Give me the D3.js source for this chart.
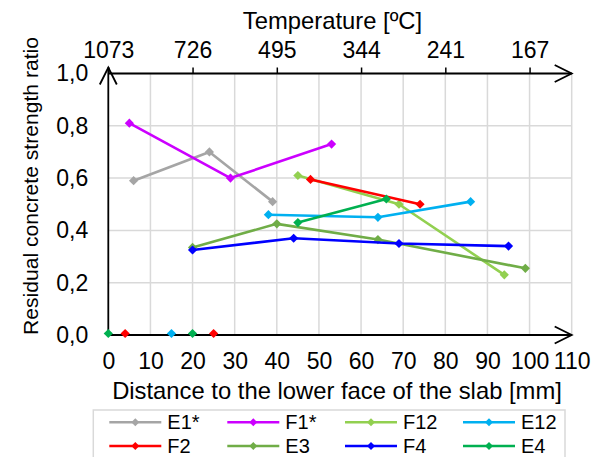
<!DOCTYPE html>
<html>
<head>
<meta charset="utf-8">
<script src="https://cdn.jsdelivr.net/npm/d3@7"></script>
<style>
  html, body { margin: 0; padding: 0; background: #fff; }
  svg { display: block; font-family: "Liberation Sans", Arial, sans-serif; }
</style>
</head>
<body>
<svg id="chart" width="603" height="457"></svg>
<script>
// Axis ticks
const distanceTicks = [0, 10, 20, 30, 40, 50, 60, 70, 80, 90, 100, 110];
const ratioTicks = [0, 0.2, 0.4, 0.6, 0.8, 1.0];
const temperatureTickPositions = [0, 20, 40, 60, 80, 100];
const temperatureLabels = ["1073", "726", "495", "344", "241", "167"];

// Series: [distance mm, residual strength ratio]
const seriesNames = ["E1*", "F1*", "F12", "E12", "F2", "E3", "F4", "E4"];
const seriesColors = ["#a5a5a5", "#cc00ff", "#92d050", "#00b0f0", "#ff0000", "#70ad47", "#0000ff", "#00b050"];
const e1Star = [[6, 0.59], [24, 0.70], [39, 0.51]];
const f1Star = [[5, 0.81], [29, 0.60], [53, 0.73]];
const f12 = [[45, 0.61], [69, 0.50], [94, 0.23]];
const e12 = [[38, 0.46], [64, 0.45], [86, 0.51]];
const f2 = [[48, 0.595], [74, 0.50]];
const e3 = [[20, 0.335], [40, 0.425], [64, 0.365], [99, 0.255]];
const f4 = [[20, 0.325], [44, 0.37], [69, 0.35], [95, 0.34]];
const e4 = [[45, 0.43], [66, 0.52]];

// Spalled layers (ratio 0), drawn as markers only
const e12Zero = [15];
const f2Zero = [4, 25];
const e4Zero = [0, 20];

const seriesData = [e1Star, f1Star, f12, e12, f2, e3, f4, e4];
const zeroData = [[], [], [], e12Zero, f2Zero, [], [], e4Zero];

const svg = d3.select("#chart");

const x = d3.scaleLinear().domain([0, 110]).range([108.3, 571.7]);
const y = d3.scaleLinear().domain([0, 1]).range([335, 73.5]);

const diamond = r => `M0,${-r}L${r},0L0,${r}L${-r},0Z`;

// Gridlines
const grid = svg.append("g").attr("stroke", "#d9d9d9").attr("stroke-width", 1.5);
grid.selectAll("line.v").data(distanceTicks.filter(d => d > 0)).join("line")
  .attr("x1", d => x(d)).attr("x2", d => x(d))
  .attr("y1", y(0)).attr("y2", y(1));
grid.selectAll("line.h").data(ratioTicks.filter(d => d > 0)).join("line")
  .attr("x1", x(0)).attr("x2", x(110))
  .attr("y1", d => y(d)).attr("y2", d => y(d));

// Bottom axis (distance)
const xAxis = svg.append("g")
  .attr("transform", `translate(0,${y(0)})`)
  .call(d3.axisBottom(x).tickValues(distanceTicks).tickSize(0).tickPadding(18).tickFormat(d3.format("d")));
xAxis.select(".domain").remove();
xAxis.selectAll("text").attr("font-size", 23).attr("fill", "#000").attr("font-family", "Liberation Sans, Arial, sans-serif");

// Left axis (ratio)
const yAxis = svg.append("g")
  .attr("transform", `translate(${x(0)},0)`)
  .call(d3.axisLeft(y).tickValues(ratioTicks).tickSize(0).tickPadding(20)
    .tickFormat(d => d3.format(".1f")(d).replace(".", ",")));
yAxis.select(".domain").remove();
yAxis.selectAll("text").attr("font-size", 23).attr("fill", "#000").attr("font-family", "Liberation Sans, Arial, sans-serif");

// Top axis (temperature)
const tAxis = svg.append("g")
  .attr("transform", `translate(0,${y(1)})`)
  .call(d3.axisTop(x).tickValues(temperatureTickPositions).tickSize(6).tickPadding(10)
    .tickFormat((d, i) => temperatureLabels[i]));
tAxis.select(".domain").remove();
tAxis.selectAll("line").attr("stroke", "#000").attr("stroke-width", 1.5);
tAxis.selectAll("text").attr("font-size", 23).attr("fill", "#000").attr("font-family", "Liberation Sans, Arial, sans-serif");

// Axis lines with open arrowheads
const axes = svg.append("g").attr("stroke", "#000").attr("stroke-width", 1.8).attr("fill", "none");
axes.append("line").attr("x1", x(0)).attr("x2", x(110)).attr("y1", y(0)).attr("y2", y(0));
axes.append("line").attr("x1", x(0)).attr("x2", x(110)).attr("y1", y(1)).attr("y2", y(1));
axes.append("line").attr("x1", x(0)).attr("x2", x(0)).attr("y1", y(0)).attr("y2", y(1) - 6);
const ah = 17, aw = 8.5;
axes.append("path").attr("d", `M${x(110) - ah},${y(0) - aw}L${x(110)},${y(0)}L${x(110) - ah},${y(0) + aw}`);
axes.append("path").attr("d", `M${x(110) - ah},${y(1) - aw}L${x(110)},${y(1)}L${x(110) - ah},${y(1) + aw}`);
axes.append("path").attr("d", `M${x(0) - aw},${y(1) - 6 + ah}L${x(0)},${y(1) - 6}L${x(0) + aw},${y(1) - 6 + ah}`);

// Series lines and markers
const line = d3.line().x(d => x(d[0])).y(d => y(d[1]));
seriesData.forEach((pts, i) => {
  const g = svg.append("g");
  g.append("path").attr("d", line(pts)).attr("fill", "none")
    .attr("stroke", seriesColors[i]).attr("stroke-width", 2.6).attr("stroke-linejoin", "round");
  g.selectAll("path.m").data(pts).join("path")
    .attr("d", diamond(4.6))
    .attr("transform", d => `translate(${x(d[0])},${y(d[1])})`)
    .attr("fill", seriesColors[i]);
  g.selectAll("path.z").data(zeroData[i]).join("path")
    .attr("d", diamond(4.6))
    .attr("transform", d => `translate(${x(d)},${y(0) - 1.5})`)
    .attr("fill", seriesColors[i]);
});

// Axis titles
svg.append("text").attr("x", 332.5).attr("y", 29).attr("text-anchor", "middle")
  .attr("font-size", 23.8).text("Temperature [ºC]");
svg.append("text").attr("x", 337).attr("y", 399).attr("text-anchor", "middle")
  .attr("font-size", 23.8).text("Distance to the lower face of the slab [mm]");
svg.append("text").attr("transform", "translate(38,186) rotate(-90)").attr("text-anchor", "middle")
  .attr("font-size", 21.1).text("Residual concrete strength ratio");

// Legend
const legend = svg.append("g");
legend.append("rect").attr("x", 93.3).attr("y", 410).attr("width", 471.7).attr("height", 60)
  .attr("fill", "#fff").attr("stroke", "#d9d9d9").attr("stroke-width", 1.5);
const colX = [109.3, 227.3, 345, 463];
const rowY = [422.3, 446];
seriesNames.forEach((name, i) => {
  const lx = colX[i % 4], ly = rowY[Math.floor(i / 4)];
  legend.append("line").attr("x1", lx).attr("x2", lx + 52).attr("y1", ly).attr("y2", ly)
    .attr("stroke", seriesColors[i]).attr("stroke-width", 2.6);
  legend.append("path").attr("d", diamond(4)).attr("transform", `translate(${lx + 26},${ly})`)
    .attr("fill", seriesColors[i]);
  legend.append("text").attr("x", lx + 58).attr("y", ly + 7).attr("font-size", 20).text(name);
});
</script>
</body>
</html>
